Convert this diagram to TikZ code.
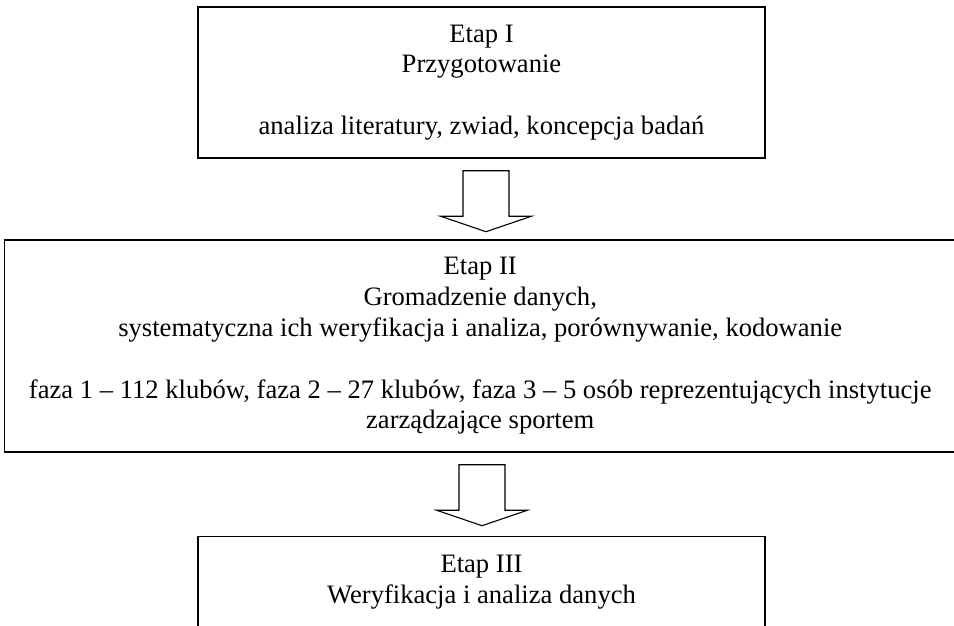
\documentclass[tikz,border=0pt]{standalone}
\usepackage{fontspec}
\setmainfont{Liberation Serif}
\usetikzlibrary{calc}
\begin{document}
\begin{tikzpicture}[x=1pt,y=-1pt,
  stagebox/.style={draw=black, line width=1.4pt, inner sep=0pt, align=center, font=\fontsize{26.6}{30.8}\selectfont},
  stagetext/.style={inner sep=0pt, align=center, font=\fontsize{26.6}{30.8}\selectfont},
  barrow/.pic={\draw[line width=1.1pt, line join=miter] (-23,0) -- (23,0) -- (23,45.5) -- (45.5,45.5) -- (0,61) -- (-45.5,45.5) -- (-23,45.5) -- cycle;}
]
\useasboundingbox (0,0) rectangle (954,625);
\node[stagebox, minimum width=567pt, minimum height=151pt] (b1) at (481.5,82.5)
  {Etap I\\Przygotowanie\\[30.8pt]analiza literatury, zwiad, koncepcja badań};
\node[stagebox, minimum width=951.5pt, minimum height=212pt] (b2) at (480.25,346)
  {Etap II\\Gromadzenie danych,\\systematyczna ich weryfikacja i analiza, porównywanie, kodowanie\\[30.8pt]faza 1 – 112 klubów, faza 2 – 27 klubów, faza 3 – 5 osób reprezentujących instytucje\\zarządzające sportem};
\node[draw=black, line width=1.4pt, minimum width=567pt, minimum height=120pt, anchor=north, inner sep=0pt] (b3) at (481.5,536) {};
\node[stagetext] (t3) at (481.5,582) {Etap III\\Weryfikacja i analiza danych};
\path (b1.south) ++(4.5,12) pic {barrow};
\path (b2.south) ++(1.75,12) pic {barrow};
\end{tikzpicture}
\end{document}
